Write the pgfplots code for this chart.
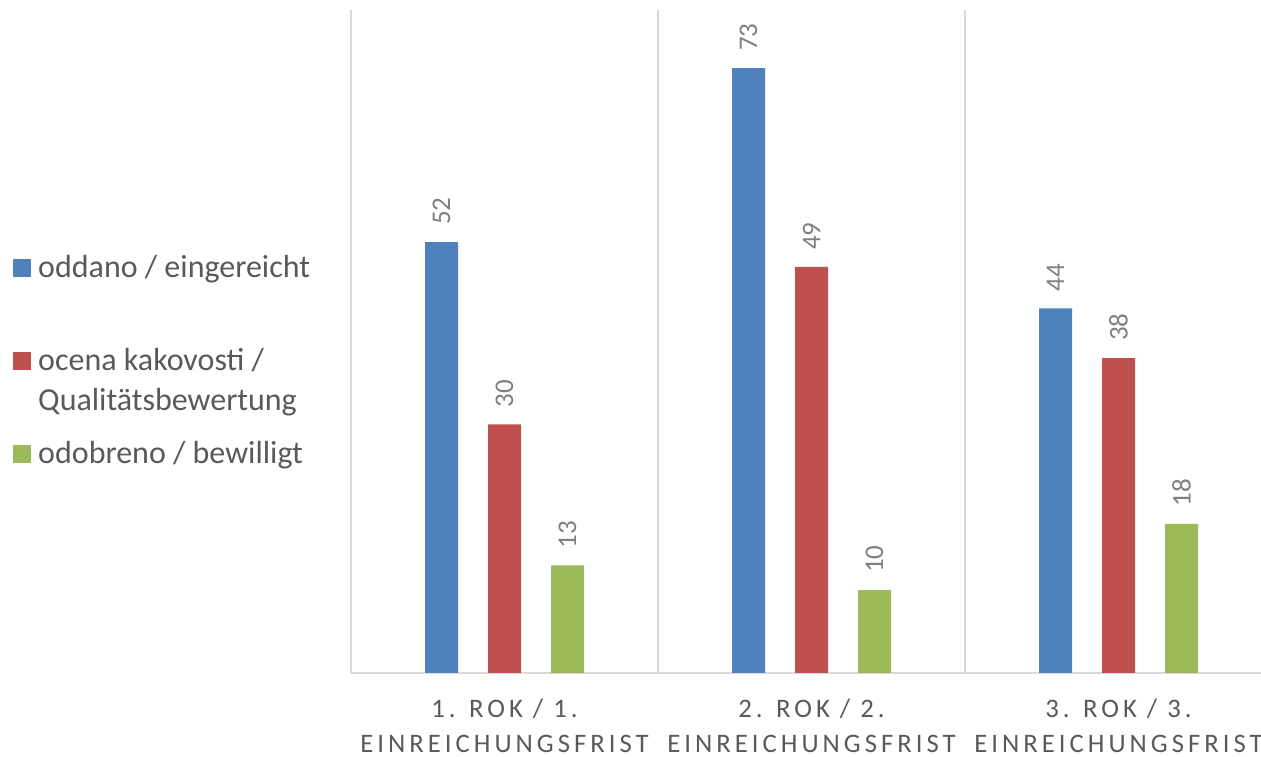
\documentclass[border=0pt]{standalone}
\usepackage{fontspec}
\setmainfont{Carlito}
\newfontfamily\spacedfont[LetterSpace=15]{Carlito}
\usepackage{pgfplots}
\pgfplotsset{compat=1.18}
\definecolor{cblue}{HTML}{4F81BD}
\definecolor{cred}{HTML}{C0504D}
\definecolor{cgreen}{HTML}{9BBB59}
\definecolor{gridgray}{HTML}{D9D9D9}
\definecolor{tgray}{HTML}{595959}
\definecolor{lgray}{HTML}{808080}
\begin{document}
\begin{tikzpicture}
\path[use as bounding box] (0,0) rectangle (1261pt,757pt);
\begin{axis}[
  at={(351pt,84pt)}, anchor=south west,
  scale only axis, width=910pt, height=663pt,
  xmin=-0.5, xmax=2.464, ymin=0, ymax=80,
  axis x line*=bottom, axis y line=none,
  x axis line style={draw=gridgray, line width=1.5pt},
  ytick=\empty,
  xtick={0,1,2},
  xticklabels={{1. ROK / 1.\\EINREICHUNGSFRIST},{2. ROK / 2.\\EINREICHUNGSFRIST},{3. ROK / 3.\\EINREICHUNGSFRIST}},
  xticklabel style={align=center, font=\spacedfont\fontsize{26.7pt}{35pt}\selectfont, text=tgray, inner sep=0pt, yshift=-26pt},
  major tick length=0pt, minor tick length=0pt,
  minor xtick={-0.5,0.5,1.5},
  xminorgrids=true,
  minor grid style={gridgray, line width=1.5pt},
  ybar=30pt, bar width=33pt,
  nodes near coords,
  /pgf/number format/assume math mode=true,
  every node near coord/.append style={rotate=90, anchor=west, font=\fontsize{27pt}{27pt}\selectfont, text=lgray, inner sep=0pt, inner xsep=17pt},
  legend style={at={(-0.3714,0.6335)}, anchor=north west, draw=none, fill=none, inner sep=0pt, row sep=0pt, column sep=7pt, font=\fontsize{32pt}{40pt}\selectfont, text=tgray, cells={anchor=base west}, nodes={inner sep=0pt, text height=24pt, text depth=69pt}},
  legend image code/.code={\fill[#1] (0pt,0pt) rectangle (18pt,18pt);},
]
\addplot[fill=cblue, draw=none] coordinates {(0,52) (1,73) (2,44)};
\addplot[fill=cred, draw=none] coordinates {(0,30) (1,49) (2,38)};
\addplot[fill=cgreen, draw=none] coordinates {(0,13) (1,10) (2,18)};
\legend{{oddano / eingereicht},{\begin{tabular}[t]{@{}l@{}}ocena kakovosti /\\Qualitätsbewertung\end{tabular}},{odobreno / bewilligt}}
\end{axis}
\end{tikzpicture}
\end{document}
